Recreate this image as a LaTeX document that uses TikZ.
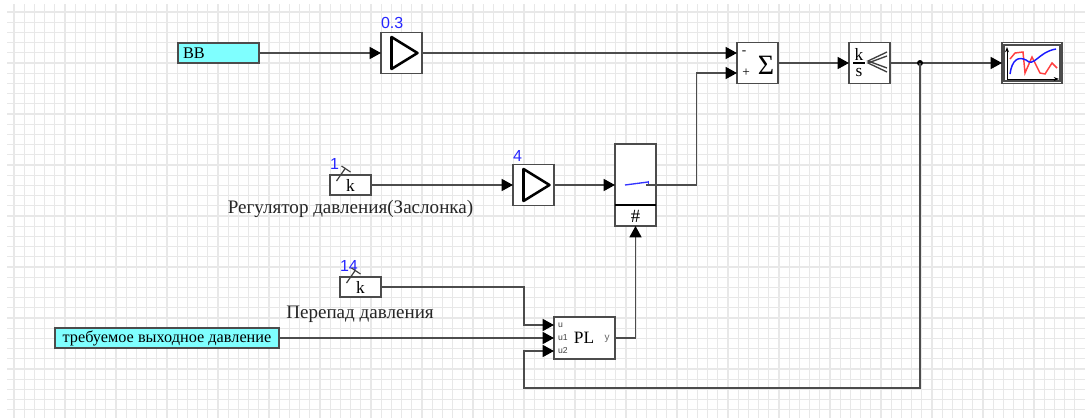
\documentclass[tikz,border=0pt]{standalone}
\usepackage{fontspec}
\setmainfont{Liberation Serif}
\setsansfont{Liberation Sans}
\usetikzlibrary{arrows.meta}
\definecolor{srcfill}{RGB}{127,255,255}
\begin{document}
\begin{tikzpicture}[
      x=0.75pt, y=-0.75pt,
      every node/.style={font=\small, inner sep=0pt, outer sep=0pt},
      block/.style={rectangle, draw=black!70, fill=white, line width=1.1pt, minimum width=30.75pt, minimum height=30.75pt},
      gain/.style={block},
      sumblock/.style={block},
      konst/.style={block, minimum height=15pt, font=\fontsize{13}{14}\selectfont},
      source/.style={rectangle, draw=black!70, fill=srcfill, line width=1.1pt, minimum height=15pt, font=\fontsize{12.2}{13}\selectfont},
      value/.style={text=blue!85, font=\sffamily\fontsize{12}{13}\selectfont},
      caption/.style={text=black!85, font=\fontsize{14.3}{15}\selectfont},
      port/.style={text=black!75, font=\sffamily\fontsize{6.5}{7}\selectfont},
      wire/.style={draw=black!70, line width=1.1pt},
      sig/.style={wire, -{Triangle[length=8.5pt, width=9pt, color=black]}},
      gridline/.style={draw=black!9, line width=0.8pt},
      symbol/.style={black, line width=1.9pt, line join=round}
  ]
    \useasboundingbox (0,0) rectangle (1085,418);
    \fill[white] (0,0) rectangle (1085,418);
    \foreach \n in {0,...,104} {
      \draw[gridline] ({14+10.2*\n},4) -- ++(0,414);
    }
    \foreach \n in {0,...,39} {
      \draw[gridline] (7,{12+10.2*\n}) -- (1085,{12+10.2*\n});
    }

    \node[source, minimum width=60.75pt, text width=53.25pt, align=left] (vv) at (218.5,53) {ВВ};
    \node[gain] (gaintop) at (401.5,53) {};
    \node[sumblock] (sum) at (757.5,63) {};
    \node[block] (integ) at (869.5,63) {};
    \node[block, minimum width=45pt] (scope) at (1032,63) {};
    \node[konst] (kreg) at (350.5,185) {k};
    \node[gain] (gainreg) at (533.5,185) {};
    \node[block, minimum height=61.5pt] (switch) at (635.5,185) {};
    \node[konst] (kdrop) at (360.5,287) {k};
    \node[source, minimum width=168pt] (target) at (167,338) {требуемое выходное давление};
    \node[block, minimum width=45.75pt, minimum height=31.5pt] (pl) at (584.5,338) {};

    \node[value, anchor=south west] (valtop) at (381,29) {0.3};
    \node[value, anchor=south west] (valreg) at (513,161) {4};
    \node[value, anchor=south west] (valk) at (330,169) {1};
    \node[value, anchor=south west] (valdrop) at (340,271) {14};
    \node[caption] (capreg) at (350.5,208.5) {Регулятор давления(Заслонка)};
    \node[caption] (capdrop) at (360,314.5) {Перепад давления};

    \node[font=\fontsize{10}{11}\selectfont] (minus) at (744,53) {-};
    \node[font=\fontsize{10}{11}\selectfont] (plus) at (746,73) {+};
    \node[font=\fontsize{21}{22}\selectfont] (sigma) at (766,65) {Σ};
    \node[font=\fontsize{13}{14}\selectfont] (fracnum) at (859,54) {k};
    \node[font=\fontsize{13}{14}\selectfont] (fracden) at (859,72) {s};
    \node[font=\fontsize{14}{15}\selectfont] (hash) at (635.5,216) {\#};
    \node[font=\fontsize{13}{14}\selectfont] (plname) at (584,338) {PL};
    \node[port, anchor=west] (uin) at (558,325) {u};
    \node[port, anchor=west] (uone) at (558,338) {u1};
    \node[port, anchor=west] (utwo) at (558,351) {u2};
    \node[port, text=black!60, font=\sffamily\fontsize{7.5}{8}\selectfont] (yout) at (607,339) {y};
    \coordinate (fork) at (920,63);
    \coordinate (contact) at (646,185);

    % symbols inside the blocks
    \foreach \g in {gaintop,gainreg} {
      \draw[symbol] ([shift={(-10,-16)}]\g.center) -- ([shift={(16,0)}]\g.center) -- ([shift={(-10,16)}]\g.center) -- cycle;
    }
    \foreach \k in {kreg,kdrop} {
      \draw[black!75, line width=0.9pt] ([shift={(-14,-4)}]\k.center) -- ([shift={(-5,-17)}]\k.center);
      \draw[black!75, line width=0.9pt] ([shift={(-9,-19)}]\k.center) -- ([shift={(0,-13)}]\k.center);
    }
    \draw[black, line width=0.9pt] (853,63) -- (865,63);
    \draw[black!75, line width=1pt] (887,52) -- (868,61) -- (887,68);
    \draw[black!75, line width=1pt] (887,56) -- (868,63) -- (887,72);
    \draw[black, line width=1pt] (switch.west |- 0,205) -- (switch.east |- 0,205);
    \draw[blue!80, line width=1pt] (625,185) -- (648,182);
    \draw[blue!80, line width=0.7pt] (648,180.5) -- (648,184);

    % scope trace
    \draw[black!70, line width=0.8pt] (1004,45) rectangle (1060,81);
    \draw[black, line width=0.7pt, -{Stealth[length=4pt]}] (1007,79) -- (1007,47);
    \draw[black, line width=0.7pt, -{Stealth[length=4pt]}] (1007,79) -- (1059,79);
    \draw[red!75, line width=1.1pt] (1010,59) -- (1015,53) -- (1023,52) -- (1025,73) -- (1032,57) -- (1040,73) -- (1045,74) -- (1052,63) -- (1057,68);
    \draw[blue!90, line width=1.1pt] (1010,74) .. controls (1012,60) and (1018,56) .. (1026,60) .. controls (1034,68) and (1038,52) .. (1056,49);

    \draw[sig] (vv.east) -- (gaintop.west);
    \draw[sig] (gaintop.east) -- (minus -| sum.west);
    \draw[wire] (switch.east |- contact) -- (contact);
    \draw[sig] (contact -| switch.east) -- (696.5,185) -- (696.5,73) -- (plus -| sum.west);
    \draw[sig] (sum.east) -- (integ.west);
    \draw[wire] (integ.east) -- (fork);
    \draw[sig] (fork) -- (fork -| scope.west);
    \fill (fork) circle (3);
    \draw[sig] (kreg.east) -- (gainreg.west);
    \draw[sig] (gainreg.east) -- (switch.west);
    \draw[sig] (kdrop.east) -- (524,287) -- (524,325) -- (uin -| pl.west);
    \draw[sig] (target.east) -- (uone -| pl.west);
    \draw[sig] (pl.east) -- (635.5,338) -- (switch.south);
    \draw[sig] (fork) -- (920,388) -- (524,388) -- (524,351) -- (utwo -| pl.west);
  \end{tikzpicture}
\end{document}
